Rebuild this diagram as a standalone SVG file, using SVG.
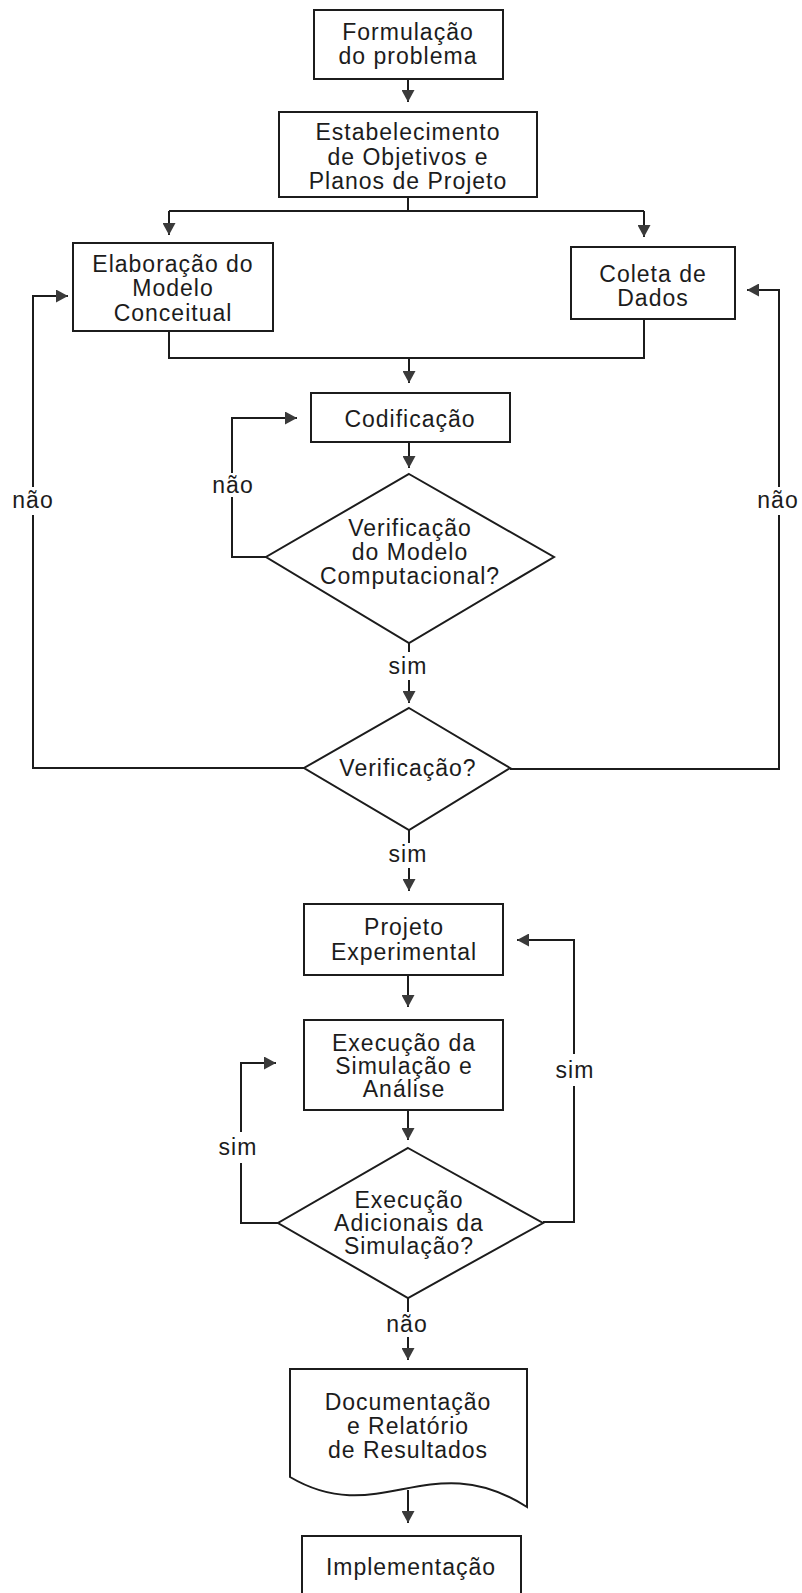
<svg xmlns="http://www.w3.org/2000/svg" width="802" height="1593" viewBox="0 0 802 1593">
<style>
.box{fill:#fff;stroke:#1c1c1c;stroke-width:2}
.ln{fill:none;stroke:#1c1c1c;stroke-width:2}
.arw{fill:none;stroke:#1c1c1c;stroke-width:2;marker-end:url(#ah)}
text{font-family:"Liberation Sans",Arial,Helvetica,sans-serif;font-size:23px;fill:#1c1c1c;text-anchor:middle;letter-spacing:1px}
</style>
<defs>
<marker id="ah" viewBox="0 0 12 13" refX="12" refY="6.5" markerWidth="12" markerHeight="13" markerUnits="userSpaceOnUse" orient="auto">
<path d="M0,0 L12,6.5 L0,13 Z" fill="#3a3a3a"/>
</marker>
</defs>
<rect width="802" height="1593" fill="#fff"/>

<g id="connectors">
<path class="arw" d="M408,79 V102"/>
<path class="ln" d="M408,197 V211 M169,211 H644"/>
<path class="arw" d="M169,211 V235"/>
<path class="arw" d="M644,211 V237"/>
<path class="ln" d="M169,331 V358 H644 V319"/>
<path class="arw" d="M409,358 V383"/>
<path class="arw" d="M409,442 V468"/>
<path class="ln" d="M266,557 H232 V497"/>
<path class="arw" d="M232,473 V418 H297"/>
<path class="ln" d="M409,643 V652"/>
<path class="arw" d="M409,680 V703"/>
<path class="ln" d="M304,768 H33 V515"/>
<path class="arw" d="M33,487 V296 H68"/>
<path class="ln" d="M510,769 H779 V515"/>
<path class="arw" d="M779,487 V290 H747"/>
<path class="ln" d="M409,830 V843"/>
<path class="arw" d="M409,868 V891"/>
<path class="arw" d="M408,975 V1007"/>
<path class="arw" d="M408,1110 V1140"/>
<path class="ln" d="M278,1223 H241 V1163"/>
<path class="arw" d="M241,1132 V1063 H276"/>
<path class="ln" d="M543,1222 H574 V1086"/>
<path class="arw" d="M574,1054 V940 H517"/>
<path class="ln" d="M408,1298 V1312"/>
<path class="arw" d="M408,1337 V1360"/>
<path class="arw" d="M408,1490 V1523"/>
<text x="233" y="493">não</text>
<text x="33" y="508">não</text>
<text x="778" y="508">não</text>
<text x="408" y="674">sim</text>
<text x="408" y="862">sim</text>
<text x="238" y="1155">sim</text>
<text x="575" y="1078">sim</text>
<text x="407" y="1332">não</text>
</g>

<g id="formulacao">
<rect class="box" x="314" y="10" width="189" height="69"/>
<text x="408" y="40">Formulação</text>
<text x="408" y="64">do problema</text>
</g>

<g id="estabelecimento">
<rect class="box" x="279" y="112" width="258" height="85"/>
<text x="408" y="140">Estabelecimento</text>
<text x="408" y="165">de Objetivos e</text>
<text x="408" y="189">Planos de Projeto</text>
</g>

<g id="elaboracao">
<rect class="box" x="73" y="243" width="200" height="88"/>
<text x="173" y="272">Elaboração do</text>
<text x="173" y="296">Modelo</text>
<text x="173" y="321">Conceitual</text>
</g>

<g id="coleta">
<rect class="box" x="571" y="247" width="164" height="72"/>
<text x="653" y="282">Coleta de</text>
<text x="653" y="306">Dados</text>
</g>

<g id="codificacao">
<rect class="box" x="311" y="393" width="199" height="49"/>
<text x="410" y="427">Codificação</text>
</g>

<g id="verif-modelo">
<path class="box" d="M409,474 L554,557 L409,643 L266,557 Z"/>
<text x="410" y="536">Verificação</text>
<text x="410" y="560">do Modelo</text>
<text x="410" y="584">Computacional?</text>
</g>

<g id="verificacao">
<path class="box" d="M409,708 L510,768 L409,830 L304,768 Z"/>
<text x="408" y="776">Verificação?</text>
</g>

<g id="projeto">
<rect class="box" x="304" y="904" width="199" height="71"/>
<text x="404" y="935">Projeto</text>
<text x="404" y="960">Experimental</text>
</g>

<g id="execucao">
<rect class="box" x="304" y="1020" width="199" height="90"/>
<text x="404" y="1051">Execução da</text>
<text x="404" y="1074">Simulação e</text>
<text x="404" y="1097">Análise</text>
</g>

<g id="execucoes-adicionais">
<path class="box" d="M408,1148 L543,1223 L408,1298 L278,1223 Z"/>
<text x="409" y="1208">Execução</text>
<text x="409" y="1231">Adicionais da</text>
<text x="409" y="1254">Simulação?</text>
</g>

<g id="documentacao">
<path class="box" d="M290,1369 H527 V1507 C430,1445 380,1530 290,1477 Z"/>
<text x="408" y="1410">Documentação</text>
<text x="408" y="1434">e Relatório</text>
<text x="408" y="1458">de Resultados</text>
</g>

<g id="implementacao">
<rect class="box" x="302" y="1536" width="219" height="70"/>
<text x="411" y="1575">Implementação</text>
</g>
</svg>
